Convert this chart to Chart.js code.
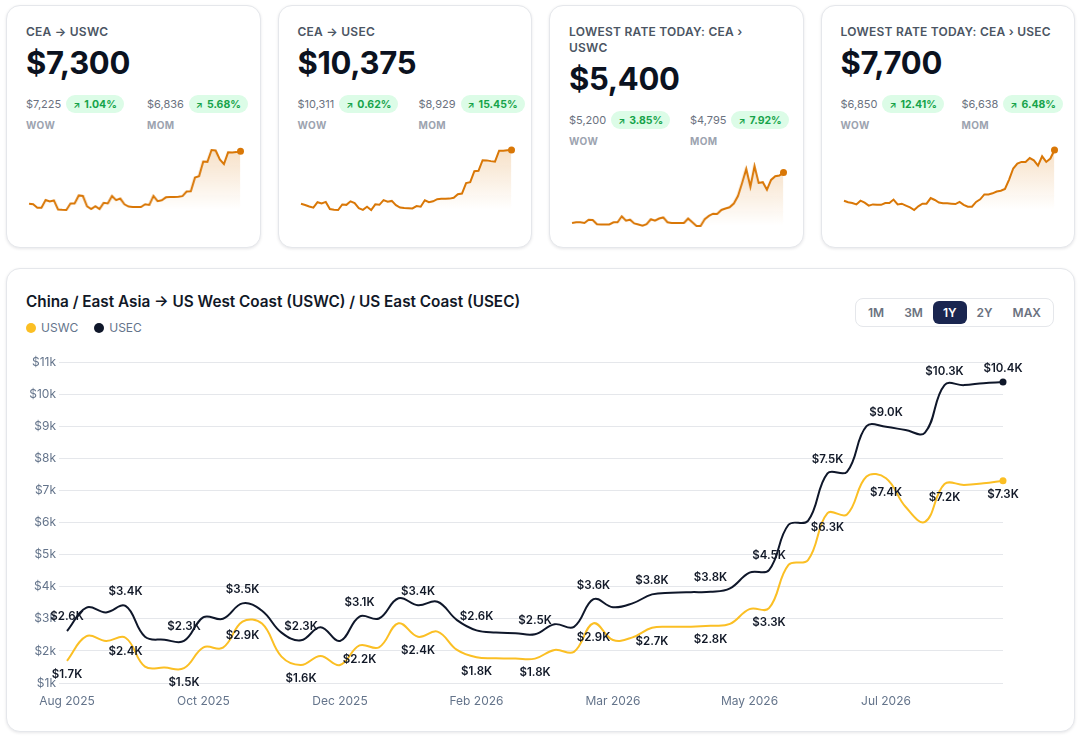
<!DOCTYPE html>
<html>
<head>
<meta charset="utf-8">
<script src="https://cdn.jsdelivr.net/npm/chart.js@4.4.0/dist/chart.umd.min.js"></script>
<style>
  * { box-sizing: border-box; }
  body { margin: 0; background: #fff; font-family: Inter, "Noto Sans", sans-serif; color: #0f172a; }
  .wrap { position: absolute; left: 6px; top: 5px; width: 1069px; }
  .cards { display: grid; grid-template-columns: repeat(4, 1fr); gap: 17px; }
  .card { height: 243px; border: 1px solid #e5e7eb; border-radius: 14px; background: #fff;
          box-shadow: 0 1px 3px rgba(15,23,42,0.1); padding: 18px 19px 0 19px; overflow: hidden; }
  .lbl { font-size: 12px; line-height: 16px; font-weight: 600; color: #4b5563; letter-spacing: 0.02em; white-space: nowrap; }
  .val { margin-top: 7px; font-size: 31px; line-height: 31px; font-weight: 700; color: #0b1220; letter-spacing: -0.01em; }
  .row { margin-top: 17px; display: grid; grid-template-columns: 121px 1fr; }
  .top { display: flex; align-items: center; height: 18px; }
  .prev { font-size: 11px; color: #6b7280; }
  .pill { margin-left: 5px; height: 18px; border-radius: 9px; background: #dcfce7; color: #16a34a;
          font-size: 10.5px; font-weight: 700; padding: 0 7px; display: flex; align-items: center; white-space: nowrap; }
  .pill i { font-style: normal; font-size: 9px; margin-right: 4px; font-weight: 700; }
  .per { margin-top: 6px; font-size: 10px; line-height: 12px; font-weight: 700; color: #9ca3af; letter-spacing: 0.04em; }
  .spark { margin-top: 15px; margin-left: -1px; width: calc(100% + 4px); height: 68px; position: relative; }
  .main { position: relative; margin-top: 20px; height: 464px; border: 1px solid #e5e7eb; border-radius: 14px;
          background: #fff; box-shadow: 0 1px 3px rgba(15,23,42,0.1); }
  .title { position: absolute; left: 19px; top: 23px; font-size: 15.3px; line-height: 20px; font-weight: 600; color: #111827; }
  .legend { position: absolute; left: 19px; top: 51px; display: flex; align-items: center; font-size: 12px; color: #64748b; line-height: 16px; }
  .legend span.dot { width: 10px; height: 10px; border-radius: 50%; display: inline-block; margin-right: 5px; }
  .legend .item { display: flex; align-items: center; margin-right: 16px; }
  .range { position: absolute; right: 20px; top: 29px; border: 1px solid #e5e7eb; border-radius: 8px; padding: 2px; display: flex; }
  .range b { font-size: 12px; line-height: 15px; font-weight: 600; color: #6b7280; padding: 4px 10px; border-radius: 6px; }
  .range b.on { background: #1a2650; color: #fff; }
  .chartbox { position: absolute; left: 13px; top: 81px; width: 1030px; height: 365px; }
</style>
</head>
<body>
<div class="wrap">
  <div class="cards">
    <div class="card">
      <div class="lbl">CEA → USWC</div>
      <div class="val">$7,300</div>
      <div class="row">
        <div><div class="top"><span class="prev">$7,225</span><span class="pill"><i>↗</i>1.04%</span></div><div class="per">WOW</div></div>
        <div><div class="top"><span class="prev">$6,836</span><span class="pill"><i>↗</i>5.68%</span></div><div class="per">MOM</div></div>
      </div>
      <div class="spark"><canvas id="s1"></canvas></div>
    </div>
    <div class="card">
      <div class="lbl">CEA → USEC</div>
      <div class="val">$10,375</div>
      <div class="row">
        <div><div class="top"><span class="prev">$10,311</span><span class="pill"><i>↗</i>0.62%</span></div><div class="per">WOW</div></div>
        <div><div class="top"><span class="prev">$8,929</span><span class="pill"><i>↗</i>15.45%</span></div><div class="per">MOM</div></div>
      </div>
      <div class="spark"><canvas id="s2"></canvas></div>
    </div>
    <div class="card">
      <div class="lbl">LOWEST RATE TODAY: CEA ›<br>USWC</div>
      <div class="val">$5,400</div>
      <div class="row">
        <div><div class="top"><span class="prev">$5,200</span><span class="pill"><i>↗</i>3.85%</span></div><div class="per">WOW</div></div>
        <div><div class="top"><span class="prev">$4,795</span><span class="pill"><i>↗</i>7.92%</span></div><div class="per">MOM</div></div>
      </div>
      <div class="spark"><canvas id="s3"></canvas></div>
    </div>
    <div class="card">
      <div class="lbl">LOWEST RATE TODAY: CEA › USEC</div>
      <div class="val">$7,700</div>
      <div class="row">
        <div><div class="top"><span class="prev">$6,850</span><span class="pill"><i>↗</i>12.41%</span></div><div class="per">WOW</div></div>
        <div><div class="top"><span class="prev">$6,638</span><span class="pill"><i>↗</i>6.48%</span></div><div class="per">MOM</div></div>
      </div>
      <div class="spark"><canvas id="s4"></canvas></div>
    </div>
  </div>

  <div class="main">
    <div class="title">China / East Asia → US West Coast (USWC) / US East Coast (USEC)</div>
    <div class="legend">
      <div class="item"><span class="dot" style="background:#fbbf24"></span>USWC</div>
      <div class="item"><span class="dot" style="background:#0f172a"></span>USEC</div>
    </div>
    <div class="range"><b>1M</b><b>3M</b><b class="on">1Y</b><b>2Y</b><b>MAX</b></div>
    <div class="chartbox"><canvas id="main"></canvas></div>
  </div>
</div>

<script>
// weekly rates, USD per FEU
const uswc = [1690, 2460, 2310, 2410, 1510, 1480, 1460, 2110, 2100, 2910, 2850, 1820, 1560, 1840, 1560, 2170,
  2110, 2860, 2440, 2600, 2030, 1800, 1770, 1760, 1760, 2030, 1970, 2860, 2340, 2420, 2720, 2750, 2750, 2780,
  2840, 3300, 3330, 4680, 4830, 6290, 6250, 7430, 7380, 6490, 6020, 7200, 7170, 7220, 7300];
const usec = [2620, 3350, 3200, 3400, 2440, 2350, 2310, 3050, 3000, 3480, 3250, 2570, 2330, 2740, 2310, 3070,
  3010, 3640, 3420, 3530, 2960, 2640, 2570, 2550, 2520, 2830, 2750, 3610, 3360, 3480, 3760, 3810, 3830, 3840,
  3950, 4440, 4520, 5930, 6050, 7530, 7580, 9000, 8980, 8880, 8800, 10280, 10280, 10340, 10375];
const tickLabels = ['Aug 2025', 'Oct 2025', 'Dec 2025', 'Feb 2026', 'Mar 2026', 'May 2026', 'Jul 2026'];
const tickEvery = 7;
const labelEvery = 3;

// sparkline extras: the few weeks before the 1Y window, and the lowest-rate series
const uswcLead = [2070, 2030, 1690];
const usecLead = [3140, 2980, 2780];
const lowUswc = [2030, 2080, 2080, 2030, 2250, 2230, 1950, 1930, 1930, 1930, 2080, 2080, 2480, 2180, 2250, 2000,
  1930, 1850, 1950, 2280, 2180, 2330, 2400, 2080, 2030, 2030, 2030, 2030, 2330, 2080, 1830, 1830, 2280, 2500,
  2650, 2630, 2900, 3000, 3080, 3330, 3830, 4700, 5630, 4450, 5830, 4700, 4750, 4250, 4900, 5150, 5200, 5400];
const lowUsec = [2630, 2480, 2400, 2260, 2630, 2440, 2140, 2260, 2220, 2220, 2400, 2400, 2740, 2260, 2330, 2140,
  1960, 1700, 2070, 2330, 2330, 2890, 2700, 2440, 2370, 2370, 2330, 2290, 2510, 2220, 2030, 2030, 2510, 2770,
  3260, 3260, 3370, 3550, 3630, 3810, 4740, 5850, 6330, 6510, 6510, 6890, 6660, 6140, 7070, 6510, 6850, 7700];

Chart.defaults.font.family = 'Inter, "Noto Sans", sans-serif';
Chart.defaults.animation = false;

function sparkline(id, values) {
  const orange = 'rgb(217,119,6)';
  new Chart(document.getElementById(id), {
    type: 'line',
    data: {
      labels: values.map((_, i) => i),
      datasets: [{
        data: values,
        borderColor: orange,
        borderWidth: 2,
        tension: 0,
        fill: 'start',
        backgroundColor: (c) => {
          const a = c.chart.chartArea;
          if (!a) return 'transparent';
          const g = c.chart.ctx.createLinearGradient(0, a.top, 0, a.bottom);
          g.addColorStop(0, 'rgba(217,119,6,0.22)');
          g.addColorStop(1, 'rgba(217,119,6,0)');
          return g;
        },
        pointRadius: (c) => c.dataIndex === values.length - 1 ? 3.5 : 0,
        pointBackgroundColor: orange,
        pointBorderWidth: 0,
        clip: 6
      }]
    },
    options: {
      responsive: true,
      maintainAspectRatio: false,
      layout: { padding: { top: 4, bottom: 2, left: 0, right: 3 } },
      plugins: { legend: { display: false }, tooltip: { enabled: false } },
      scales: {
        x: { display: false },
        y: { display: false, bounds: 'data', grace: '18%' }
      }
    }
  });
}

sparkline('s1', uswcLead.concat(uswc));
sparkline('s2', usecLead.concat(usec));
sparkline('s3', lowUswc);
sparkline('s4', lowUsec);

const categories = uswc.map((_, i) => i % tickEvery === 0 ? tickLabels[i / tickEvery] : '');

// value labels on every third week: USEC above the line, USWC below
const valueLabels = {
  id: 'valueLabels',
  afterDatasetsDraw(chart) {
    const ctx = chart.ctx;
    ctx.save();
    ctx.font = '600 11.5px Inter, "Noto Sans", sans-serif';
    ctx.fillStyle = '#111827';
    ctx.textAlign = 'center';
    ctx.textBaseline = 'middle';
    chart.data.datasets.forEach((ds, di) => {
      const meta = chart.getDatasetMeta(di);
      const shift = ds.label === 'USEC' ? -14 : 14;
      meta.data.forEach((pt, i) => {
        if (i % labelEvery !== 0) return;
        ctx.fillText('$' + (ds.data[i] / 1000).toFixed(1) + 'K', pt.x, pt.y + shift);
      });
    });
    ctx.restore();
  }
};

const last = uswc.length - 1;
new Chart(document.getElementById('main'), {
  type: 'line',
  data: {
    labels: categories,
    datasets: [
      { label: 'USWC', data: uswc, borderColor: '#fbbf24', backgroundColor: '#fbbf24', borderWidth: 2,
        tension: 0.4, pointRadius: (c) => c.dataIndex === last ? 3.5 : 0, pointBorderWidth: 0, clip: 8 },
      { label: 'USEC', data: usec, borderColor: '#0f172a', backgroundColor: '#0f172a', borderWidth: 2,
        tension: 0.4, pointRadius: (c) => c.dataIndex === last ? 3.5 : 0, pointBorderWidth: 0, clip: 8 }
    ]
  },
  options: {
    responsive: true,
    maintainAspectRatio: false,
    layout: { padding: { top: 12, right: 47, left: 0, bottom: 0 } },
    plugins: { legend: { display: false }, tooltip: { enabled: false } },
    scales: {
      x: {
        grid: { display: false },
        border: { display: false },
        ticks: { autoSkip: false, maxRotation: 0, minRotation: 0, color: '#64748b', font: { size: 12 } },
        afterFit: (s) => { s.height = 32; }
      },
      y: {
        min: 1000, max: 11000,
        border: { display: false },
        grid: { color: '#e5e7eb', tickLength: 8 },
        ticks: { stepSize: 1000, color: '#64748b', font: { size: 12 }, callback: (v) => '$' + v / 1000 + 'k' },
        afterFit: (s) => { s.width = 47; }
      }
    }
  },
  plugins: [valueLabels]
});
</script>
</body>
</html>
